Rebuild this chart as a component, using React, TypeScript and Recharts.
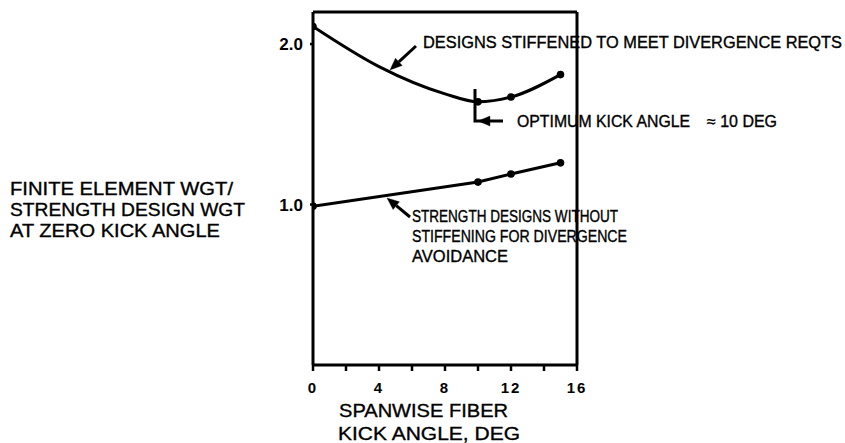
import React from "react";
import { LineChart, Line, XAxis, YAxis, ReferenceLine } from "recharts";

// designs stiffened to meet divergence requirements
const stiffAngles = [0, 4, 8, 10, 12, 15];
const stiffWgt = [2.11, 1.86, 1.69, 1.64, 1.67, 1.81];
const stiffMarked = [true, false, false, true, true, true];

// strength designs without stiffening
const strengthAngles = [0, 10, 12, 15];
const strengthWgt = [0.99, 1.14, 1.19, 1.26];

const kickTicks = [0, 2, 4, 6, 8, 10, 12, 14, 16];
const kickLabelEvery = 4;
const wgtTicks = [1.0, 2.0];

const stiffData = stiffAngles.map((x, i) => ({ x, y: stiffWgt[i], mark: stiffMarked[i] }));
const strengthData = strengthAngles.map((x, i) => ({ x, y: strengthWgt[i] }));

const W = 845;
const H = 443;
const FONT = "'Liberation Sans', Arial, Helvetica, sans-serif";

const Arrow = ({ x1, y1, x2, y2 }: { x1: number; y1: number; x2: number; y2: number }) => {
  const ang = Math.atan2(y2 - y1, x2 - x1);
  const len = 12;
  const half = 5;
  const bx = x2 - len * Math.cos(ang);
  const by = y2 - len * Math.sin(ang);
  const nx = -Math.sin(ang) * half;
  const ny = Math.cos(ang) * half;
  return (
    <g>
      <line x1={x1} y1={y1} x2={bx} y2={by} stroke="#000" strokeWidth={3} />
      <polygon points={`${x2},${y2} ${bx + nx},${by + ny} ${bx - nx},${by - ny}`} fill="#000" />
    </g>
  );
};

const StiffDot = (props: any) => {
  const { cx, cy, payload, index } = props;
  if (!payload || !payload.mark) return <g key={`sd-${index}`} />;
  return <circle key={`sd-${index}`} cx={cx} cy={cy} r={3.8} fill="#000" />;
};

export default function App() {
  return (
    <div style={{ position: "absolute", left: 0, top: 0, width: W, height: H, background: "#fff" }}>
      <LineChart
        width={W}
        height={H}
        margin={{ top: 12, right: 268, bottom: 48, left: 253 }}
      >
        <XAxis
          type="number"
          dataKey="x"
          domain={[0, 16]}
          ticks={kickTicks}
          height={30}
          allowDataOverflow
          tickFormatter={(v: number) => (v % kickLabelEvery === 0 ? String(v) : "")}
          axisLine={{ stroke: "#000", strokeWidth: 3 }}
          tickLine={{ stroke: "#000", strokeWidth: 2.5 }}
          tickSize={6}
          tickMargin={11}
          tick={{ fill: "#000", fontSize: 15, fontWeight: 700, fontFamily: FONT, letterSpacing: 2 }}
        />
        <YAxis
          type="number"
          dataKey="y"
          domain={[0, 2.2]}
          ticks={wgtTicks}
          width={60}
          allowDataOverflow
          tickFormatter={(v: number) => v.toFixed(1)}
          axisLine={{ stroke: "#000", strokeWidth: 3 }}
          tickLine={{ stroke: "#000", strokeWidth: 2.5 }}
          tickSize={3}
          tickMargin={7}
          tick={{ fill: "#000", fontSize: 17, fontWeight: 700, fontFamily: FONT }}
        />
        <ReferenceLine y={2.2} stroke="#000" strokeWidth={3} />
        <ReferenceLine x={16} stroke="#000" strokeWidth={3} />
        <Line
          data={stiffData}
          dataKey="y"
          type="monotone"
          stroke="#000"
          strokeWidth={3}
          dot={<StiffDot />}
          isAnimationActive={false}
        />
        <Line
          data={strengthData}
          dataKey="y"
          type="linear"
          stroke="#000"
          strokeWidth={3}
          dot={{ r: 3.8, fill: "#000", stroke: "#000", strokeWidth: 0 }}
          isAnimationActive={false}
        />
      </LineChart>
      <svg
        width={W}
        height={H}
        style={{ position: "absolute", left: 0, top: 0, pointerEvents: "none" }}
        fontFamily={FONT}
        fill="#000"
        stroke="#000"
        strokeWidth={0.35}
      >
        {/* y-axis title */}
        <text x={10} y={195} fontSize={18} textLength={223} lengthAdjust="spacingAndGlyphs">FINITE ELEMENT WGT/</text>
        <text x={10} y={216} fontSize={18} textLength={235} lengthAdjust="spacingAndGlyphs">STRENGTH DESIGN WGT</text>
        <text x={10} y={237} fontSize={18} textLength={210} lengthAdjust="spacingAndGlyphs">AT ZERO KICK ANGLE</text>

        {/* x-axis title */}
        <text x={339} y={417} fontSize={19} textLength={169} lengthAdjust="spacingAndGlyphs">SPANWISE FIBER</text>
        <text x={338} y={440} fontSize={19} textLength={182} lengthAdjust="spacingAndGlyphs">KICK ANGLE, DEG</text>

        {/* upper curve annotation */}
        <Arrow x1={416} y1={46} x2={390} y2={70} />
        <text x={423} y={48} fontSize={16} textLength={419} lengthAdjust="spacingAndGlyphs">DESIGNS STIFFENED TO MEET DIVERGENCE REQTS</text>

        {/* optimum kick angle marker */}
        <path d="M475,89 L475,121 L490,121" stroke="#000" strokeWidth={3} fill="none" />
        <Arrow x1={503} y1={121} x2={478} y2={121} />
        <text x={517} y={127} fontSize={16} textLength={173} lengthAdjust="spacingAndGlyphs">OPTIMUM KICK ANGLE</text>
        <text x={707} y={127} fontSize={16} textLength={70} lengthAdjust="spacingAndGlyphs">≈ 10 DEG</text>

        {/* lower line annotation */}
        <Arrow x1={410} y1={217} x2={387} y2={198} />
        <text x={412} y={222} fontSize={16} textLength={206} lengthAdjust="spacingAndGlyphs">STRENGTH DESIGNS WITHOUT</text>
        <text x={412} y={242} fontSize={16} textLength={215} lengthAdjust="spacingAndGlyphs">STIFFENING FOR DIVERGENCE</text>
        <text x={412} y={262} fontSize={16} textLength={96} lengthAdjust="spacingAndGlyphs">AVOIDANCE</text>
      </svg>
    </div>
  );
}
